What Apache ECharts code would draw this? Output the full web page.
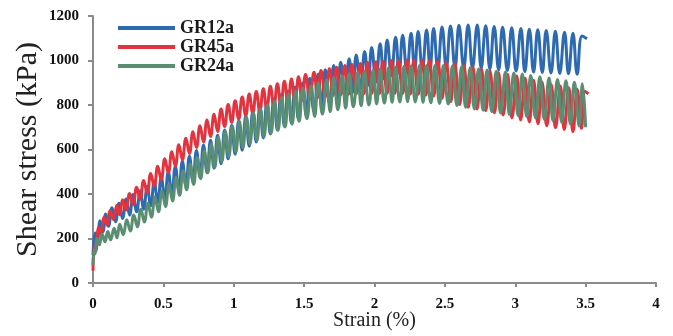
<!DOCTYPE html>
<html>
<head>
<meta charset="utf-8">
<script src="https://cdn.jsdelivr.net/npm/echarts@6/dist/echarts.min.js"></script>
<style>html,body{margin:0;padding:0;background:#fff}#c{width:673px;height:336px}</style>
</head>
<body>
<div id="c"></div>
<script>
// Series names
const seriesNames = ['GR12a', 'GR45a', 'GR24a'];

// GR12a: strain at the top of each loading arch, peak stress,
// strain at each unloading stroke, and stress reached by the unloading (kPa)
const peakStrainGR12a = [0.00,0.015,0.05,0.09,0.135,0.185,0.235,0.285,0.335,0.385,0.435,0.485,0.535,0.585,0.635,0.685,0.735,0.785,0.835,0.885,0.935,0.985,1.035,1.085,1.135,1.185,1.235,1.285,1.335,1.385,1.435,1.49,1.54,1.60,1.65,1.71,1.76,1.82,1.87,1.93,1.98,2.04,2.09,2.15,2.20,2.26,2.31,2.37,2.42,2.48,2.54,2.60,2.665,2.73,2.79,2.85,2.91,2.975,3.04,3.10,3.16,3.22,3.285,3.35,3.41,3.475];
const peakGR12a = [125,225,280,310,338,358,378,398,415,434,454,475,500,524,547,570,595,620,642,664,688,709,729,749,769,789,809,828,846,863,881,900,920,939,958,977,992,1008,1025,1041,1058,1075,1092,1104,1113,1122,1130,1137,1144,1151,1155,1158,1160,1159,1156,1153,1150,1147,1144,1141,1138,1135,1131,1127,1122,1110];
const unloadStrainGR12a = [0.00,0.03,0.07,0.11,0.16,0.21,0.26,0.31,0.36,0.41,0.46,0.51,0.56,0.61,0.66,0.71,0.76,0.81,0.86,0.91,0.96,1.01,1.06,1.11,1.16,1.21,1.26,1.31,1.36,1.41,1.46,1.515,1.57,1.625,1.68,1.735,1.79,1.845,1.90,1.955,2.01,2.065,2.12,2.175,2.23,2.285,2.34,2.395,2.45,2.51,2.572,2.634,2.696,2.758,2.82,2.882,2.944,3.006,3.068,3.13,3.192,3.254,3.316,3.378,3.44,3.51];
const troughGR12a = [125,185,230,255,275,290,305,320,332,347,362,378,398,418,437,456,476,496,516,536,558,579,597,615,634,652,670,688,704,718,734,752,770,787,806,825,840,856,873,889,903,918,932,942,948,954,958,960,962,966,968,968,968,966,962,958,955,953,950,948,946,944,942,940,938,1098];

// GR45a
const peakStrainGR45a = [0.00,0.01,0.04,0.08,0.12,0.17,0.21,0.26,0.31,0.36,0.41,0.46,0.51,0.56,0.61,0.66,0.71,0.76,0.81,0.86,0.91,0.96,1.01,1.06,1.11,1.16,1.21,1.26,1.31,1.36,1.41,1.46,1.51,1.57,1.62,1.68,1.73,1.79,1.84,1.90,1.95,2.01,2.06,2.12,2.17,2.23,2.28,2.34,2.39,2.45,2.51,2.57,2.635,2.70,2.76,2.82,2.88,2.945,3.01,3.07,3.13,3.19,3.255,3.32,3.38,3.44,3.495];
const peakGR45a = [55,170,250,295,325,350,374,402,430,461,492,525,558,590,621,651,680,707,733,758,782,802,819,836,849,861,873,884,896,907,917,927,937,947,955,963,970,977,982,987,991,994,997,1000,1001,1002,1002,1001,1000,997,991,985,977,969,961,953,946,938,930,920,911,902,892,885,878,871,862];
const unloadStrainGR45a = [0.00,0.02,0.055,0.10,0.145,0.19,0.235,0.285,0.335,0.385,0.435,0.485,0.535,0.585,0.635,0.685,0.735,0.785,0.835,0.885,0.935,0.985,1.035,1.085,1.135,1.185,1.235,1.285,1.335,1.385,1.435,1.485,1.54,1.595,1.65,1.705,1.76,1.815,1.87,1.925,1.98,2.035,2.09,2.145,2.20,2.255,2.31,2.365,2.42,2.48,2.542,2.604,2.666,2.728,2.79,2.852,2.914,2.976,3.038,3.10,3.162,3.224,3.286,3.348,3.41,3.47,3.52];
const troughGR45a = [55,145,220,260,285,307,328,352,377,405,434,464,495,525,554,582,609,634,658,681,703,722,737,752,763,772,781,790,800,809,815,820,827,833,838,843,846,848,850,851,852,852,853,853,852,850,848,845,840,830,815,802,790,782,774,765,755,742,733,724,716,707,698,690,680,695,850];

// GR24a
const peakStrainGR24a = [0.00,0.008,0.03,0.065,0.105,0.15,0.19,0.24,0.29,0.34,0.39,0.44,0.49,0.54,0.59,0.64,0.69,0.74,0.79,0.84,0.89,0.94,0.99,1.04,1.09,1.14,1.19,1.24,1.29,1.34,1.39,1.44,1.49,1.55,1.60,1.66,1.71,1.77,1.82,1.88,1.93,1.99,2.04,2.10,2.15,2.21,2.26,2.32,2.37,2.43,2.49,2.555,2.62,2.68,2.74,2.80,2.865,2.93,2.99,3.05,3.11,3.175,3.24,3.30,3.36,3.42,3.477];
const peakGR24a = [80,150,200,220,232,246,264,284,306,332,358,386,414,444,474,504,534,564,594,624,654,682,706,726,746,765,783,800,817,834,849,862,875,887,900,912,922,931,939,946,951,956,962,967,971,974,976,977,978,978,978,976,972,967,962,957,952,948,944,939,933,927,921,915,909,902,895];
const unloadStrainGR24a = [0.00,0.015,0.045,0.085,0.125,0.17,0.215,0.265,0.315,0.365,0.415,0.465,0.515,0.565,0.615,0.665,0.715,0.765,0.815,0.865,0.915,0.965,1.015,1.065,1.115,1.165,1.215,1.265,1.315,1.365,1.415,1.465,1.52,1.575,1.63,1.685,1.74,1.795,1.85,1.905,1.96,2.015,2.07,2.125,2.18,2.235,2.29,2.345,2.40,2.462,2.524,2.586,2.648,2.71,2.772,2.834,2.896,2.958,3.02,3.082,3.144,3.206,3.268,3.33,3.392,3.454,3.50];
const troughGR24a = [80,130,172,185,194,203,217,234,252,274,296,320,343,368,394,419,443,469,495,520,545,569,590,608,626,642,658,672,686,701,714,727,738,748,759,770,779,786,792,797,800,805,809,812,814,815,814,812,810,807,804,798,790,782,776,770,764,758,753,748,742,736,729,722,715,706,700];

const colors = ['#2E6AB1', '#E2343E', '#5A8E72'];

// loading arch top, then unloading stroke down to the trough, repeated
function buildPath(peakStrain, peak, unloadStrain, trough) {
  const d = [];
  for (let i = 0; i < peak.length; i++) {
    d.push([peakStrain[i], peak[i]]);
    d.push([unloadStrain[i], trough[i]]);
  }
  return d;
}

const seriesData = [
  buildPath(peakStrainGR12a, peakGR12a, unloadStrainGR12a, troughGR12a),
  buildPath(peakStrainGR45a, peakGR45a, unloadStrainGR45a, troughGR45a),
  buildPath(peakStrainGR24a, peakGR24a, unloadStrainGR24a, troughGR24a)
];

const serif = '"Liberation Serif", "Times New Roman", serif';
const axisGray = '#8a8a8a';

const chart = echarts.init(document.getElementById('c'), null, {renderer: 'canvas'});
chart.setOption({
  animation: false,
  backgroundColor: '#fff',
  grid: {left: 93, right: 17, top: 16, bottom: 53, containLabel: false, outerBoundsMode: 'none'},
  legend: {
    orient: 'vertical', left: 118, top: 19, itemGap: 1, padding: 0,
    icon: 'rect', itemWidth: 57, itemHeight: 4,
    textStyle: {fontFamily: serif, fontWeight: 'bold', fontSize: 18, color: '#1a1a1a', lineHeight: 18},
    data: seriesNames
  },
  xAxis: {
    type: 'value', min: 0, max: 4, interval: 0.5,
    name: 'Strain (%)', nameLocation: 'middle', nameGap: 28, nameMoveOverlap: false,
    nameTextStyle: {fontFamily: serif, fontSize: 20, color: '#222'},
    axisLine: {lineStyle: {color: axisGray, width: 2}},
    axisTick: {show: true, length: 4, lineStyle: {color: axisGray, width: 2}},
    axisLabel: {fontFamily: serif, fontWeight: 'bold', fontSize: 15, color: '#111', margin: 14},
    splitLine: {show: false}
  },
  yAxis: {
    type: 'value', min: 0, max: 1200, interval: 200,
    name: 'Shear stress (kPa)', nameLocation: 'middle', nameGap: 50, nameMoveOverlap: false,
    nameTextStyle: {fontFamily: serif, fontSize: 30, color: '#222'},
    axisLine: {show: true, lineStyle: {color: axisGray, width: 2}},
    axisTick: {show: true, length: 5, lineStyle: {color: axisGray, width: 2}},
    axisLabel: {fontFamily: serif, fontWeight: 'bold', fontSize: 15, color: '#111', margin: 14,
      formatter: v => String(v)},
    splitLine: {show: false}
  },
  series: seriesNames.map((n, k) => ({
    name: n, type: 'line', data: seriesData[k],
    showSymbol: false, symbol: 'none', smooth: 0.45,
    lineStyle: {color: colors[k], width: 3},
    itemStyle: {color: colors[k]},
    z: 2 + k
  }))
});
</script>
</body>
</html>
